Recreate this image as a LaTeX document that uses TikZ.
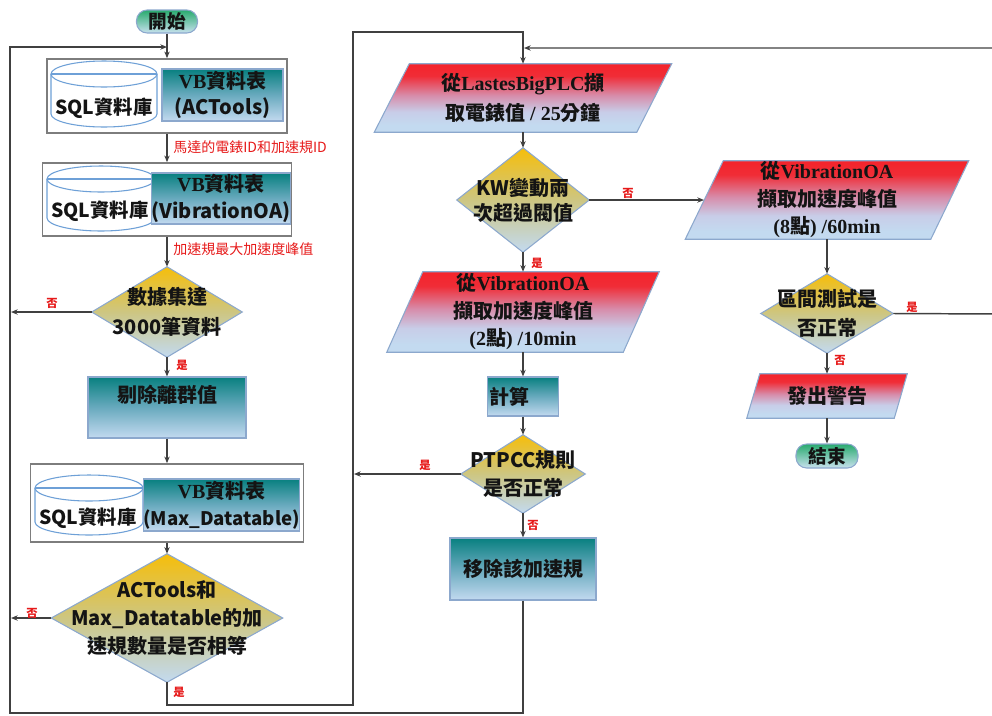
\documentclass[tikz,border=0pt]{standalone}
\usepackage{fontspec}
\setmainfont{Noto Sans CJK TC}
\newfontfamily\tms{Liberation Serif}
\usetikzlibrary{arrows.meta,backgrounds,calc}
\definecolor{teal1}{RGB}{8,128,128}
\definecolor{teal2}{RGB}{105,170,190}
\definecolor{lblue}{RGB}{195,218,240}
\definecolor{gold1}{RGB}{246,190,10}
\definecolor{khaki1}{RGB}{205,198,130}
\definecolor{pred}{RGB}{255,8,8}
\definecolor{pred2}{RGB}{240,45,55}
\definecolor{pmid}{RGB}{215,140,170}
\definecolor{pblue}{RGB}{200,205,232}
\definecolor{tgreen}{RGB}{40,170,110}
\definecolor{tbot}{RGB}{200,225,238}
\definecolor{edgecol}{RGB}{140,168,205}
\definecolor{conncol}{RGB}{64,64,64}
\definecolor{labred}{RGB}{230,25,25}
\definecolor{boxgray}{RGB}{125,125,125}
\definecolor{cylcol}{RGB}{110,160,215}
\definecolor{txtcol}{RGB}{20,20,20}
\pgfdeclareverticalshading{parashade}{100bp}{color(0bp)=(lblue); color(30bp)=(lblue); color(40bp)=(pblue); color(52bp)=(pmid); color(66bp)=(pred2); color(100bp)=(pred)}
\tikzset{
  conn/.style={draw=conncol, line width=1.1pt, -{Stealth[length=5pt,width=4pt]}},
  lab/.style={text=labred, font=\bfseries\fontsize{8.5}{10}\selectfont, inner sep=0pt},
  redlab/.style={text=labred, font=\fontsize{10.5}{12}\selectfont, anchor=west, inner sep=0pt},
  maintext/.style={text=txtcol, font=\bfseries\fontsize{15}{21}\selectfont, align=center, inner sep=0pt},
  term/.style={maintext, rounded corners=8pt, draw=edgecol, line width=0.8pt, top color=tgreen, bottom color=tbot,
    font=\bfseries\fontsize{14}{16}\selectfont},
  obox/.style={draw=boxgray, line width=1.2pt, fill=white, inner sep=0pt},
  tbox/.style={maintext, draw=edgecol, line width=0.8pt, top color=teal1, bottom color=lblue, middle color=teal2,
    font=\bfseries\fontsize{15}{20}\selectfont},
  shapetext/.style={maintext},
  diafill/.style={draw=edgecol, line width=0.8pt, top color=gold1, bottom color=lblue, middle color=khaki1},
  parafill/.style={draw=edgecol, line width=0.8pt, shading=parashade},
  cylst/.style={draw=cylcol, line width=0.8pt, fill=white},
  sqlt/.style={text=txtcol, font=\bfseries\fontsize{14.5}{18}\selectfont, inner sep=0pt},
}
\begin{document}
\begin{tikzpicture}[x=0.75pt,y=-0.75pt]
\useasboundingbox (0,0) rectangle (992,715);

% ---------- left column ----------
\node[term, minimum width=45.75pt, minimum height=17.25pt] (start) at (167,21.5) {開始};

\node[obox, minimum width=180pt, minimum height=55.5pt] (ob1) at (167,96) {};
\path[cylst] (51,74) -- (51,114) arc[start angle=180,end angle=360,x radius=39.75pt,y radius=9.75pt] -- (157,74);
\draw[cylst] (104,74) ellipse [x radius=39.75pt, y radius=9.75pt];
\draw[draw=cylcol, line width=0.8pt] (51,74) -- (157,74);
\node[sqlt] (sql1) at (104,108) {SQL資料庫};
\node[tbox, minimum width=90.75pt, minimum height=39pt] (vb1) at (222.5,95) {{\tms VB}資料表\\(ACTools)};

\node[obox, minimum width=186.75pt, minimum height=54.75pt] (ob2) at (167,199.5) {};
\path[cylst] (47,179) -- (47,218) arc[start angle=180,end angle=360,x radius=40.5pt,y radius=9.75pt] -- (155,179);
\draw[cylst] (101,179) ellipse [x radius=40.5pt, y radius=9.75pt];
\draw[draw=cylcol, line width=0.8pt] (47,179) -- (155,179);
\node[sqlt] (sql2) at (100,211) {SQL資料庫};
\node[tbox, minimum width=94.5pt, minimum height=38.25pt] (vb2) at (221,198.5) {{\tms VB}資料表\\(VibrationOA)};

\node[shapetext, minimum width=112.5pt, minimum height=67.5pt, font=\bfseries\fontsize{15}{22.5}\selectfont] (d1) at (167,312) {數據集達\\3000筆資料};

\node[tbox, minimum width=118.5pt, minimum height=45.75pt] (r1) at (167,407.5) {};
\node[maintext] (r1t) at (167,395) {剔除離群值};

\node[obox, minimum width=204.75pt, minimum height=58.5pt] (ob3) at (167,503) {};
\path[cylst] (35,488) -- (35,522) arc[start angle=180,end angle=360,x radius=40.5pt,y radius=9.75pt] -- (143,488);
\draw[cylst] (89,488) ellipse [x radius=40.5pt, y radius=9.75pt];
\draw[draw=cylcol, line width=0.8pt] (35,488) -- (143,488);
\node[sqlt] (sql3) at (88,518) {SQL資料庫};
\node[tbox, minimum width=113.25pt, minimum height=39pt] (vb3) at (221.5,505) {{\tms VB}資料表\\{\fontsize{14}{20}\selectfont(Max\_Datatable)}};

\node[shapetext, minimum width=173.25pt, minimum height=96pt] (d2) at (167,618) {ACTools和\\Max\_Datatable的加\\速規數量是否相等};

% ---------- middle column ----------
\node[shapetext, minimum width=222.75pt, minimum height=51pt, font=\bfseries\fontsize{15}{22.5}\selectfont] (p1) at (523,98) {從{\tms LastesBigPLC}擷\\取電錶值{\tms\ / 25}分鐘};
\node[shapetext, minimum width=99pt, minimum height=78pt, font=\bfseries\fontsize{15}{19}\selectfont] (dKW) at (523,200) {KW變動兩\\次超過閥值};
\node[shapetext, minimum width=204pt, minimum height=60pt, font=\bfseries\fontsize{15}{20.6}\selectfont] (p3) at (523,312) {從{\tms VibrationOA}\\擷取加速度峰值\\{\tms (2}點{\tms ) /10min}};
\node[tbox, minimum width=53.25pt, minimum height=29.25pt] (calc) at (523,396.5) {};
\node[maintext] (calct) at (509,397) {計算};
\node[shapetext, minimum width=93pt, minimum height=58.5pt] (dPT) at (523,474) {PTPCC規則\\是否正常};
\node[tbox, minimum width=109.5pt, minimum height=46.5pt] (rm) at (523,569) {移除該加速規};

% ---------- right column ----------
\node[shapetext, minimum width=212.25pt, minimum height=58.5pt, font=\bfseries\fontsize{15}{20.6}\selectfont] (p2) at (827,200) {從{\tms VibrationOA}\\擷取加速度峰值\\{\tms (8}點{\tms ) /60min}};
\node[shapetext, minimum width=99pt, minimum height=59.25pt, font=\bfseries\fontsize{15}{21.75}\selectfont] (dInt) at (827,313.5) {區間測試是\\否正常};
\node[shapetext, minimum width=120pt, minimum height=33pt] (p4) at (827,396) {發出警告};
\node[term, minimum width=46.5pt, minimum height=18pt] (end) at (827,456) {結束};

% ---------- shapes behind text ----------
\begin{scope}[on background layer]
  \foreach \d in {d1,d2,dKW,dPT,dInt}{
    \path[diafill] (\d.north) -- (\d.east) -- (\d.south) -- (\d.west) -- cycle;
  }
  \path[parafill] ($(p1.north west)+(35,0)$) -- (p1.north east) -- ($(p1.south east)+(-35,0)$) -- (p1.south west) -- cycle;
  \path[parafill] ($(p2.north west)+(38,0)$) -- (p2.north east) -- ($(p2.south east)+(-38,0)$) -- (p2.south west) -- cycle;
  \path[parafill] ($(p3.north west)+(36,0)$) -- (p3.north east) -- ($(p3.south east)+(-36,0)$) -- (p3.south west) -- cycle;
  \path[parafill] ($(p4.north west)+(13,0)$) -- (p4.north east) -- ($(p4.south east)+(-13,0)$) -- (p4.south west) -- cycle;
\end{scope}

% ---------- coordinates ----------
\coordinate (a1) at (523,713);
\coordinate (a2) at (10,713);
\coordinate (a3) at (10,47);
\coordinate (a4) at (167,47);
\coordinate (b1) at (11,312);
\coordinate (b2) at (11,618);
\coordinate (c1) at (167,705);
\coordinate (c2) at (353,705);
\coordinate (c3) at (353,32);
\coordinate (c4) at (523,32);
\coordinate (e1) at (354,474);
\coordinate (f1) at (1000,314);
\coordinate (f2) at (1000,48);
\coordinate (f3) at (524,48);
\coordinate (p2in) at (704,200);

% ---------- connectors ----------
\draw[conn] (start.south) -- (ob1.north);
\draw[conn] (ob1.south) -- (ob2.north);
\node[redlab] (l1) at (173,147) {馬達的電錶ID和加速規ID};
\draw[conn] (ob2.south) -- (d1.north);
\node[redlab] (l2) at (173,249) {加速規最大加速度峰值};
\draw[conn] (d1.west) -- (b1);
\node[lab] (n1) at (52,303) {否};
\draw[conn] (d1.south) -- (r1.north);
\node[lab] (y1) at (182,365) {是};
\draw[conn] (r1.south) -- (ob3.north);
\draw[conn] (ob3.south) -- (d2.north);
\draw[conn] (d2.west) -- (b2);
\node[lab] (n2) at (32,613) {否};
\draw[conn] (d2.south) -- (c1) -- (c2) -- (c3) -- (c4) -- (p1.north);
\node[lab] (y2) at (179,692) {是};
\draw[conn] (rm.south) -- (a1) -- (a2) -- (a3) -- (a4);

\draw[conn] (p1.south) -- (dKW.north);
\draw[conn] (dKW.east) -- (p2in);
\node[lab] (n3) at (628,193) {否};
\draw[conn] (dKW.south) -- (p3.north);
\node[lab] (y3) at (537,263) {是};
\draw[conn] (p3.south) -- (calc.north);
\draw[conn] (calc.south) -- (dPT.north);
\draw[conn] (dPT.west) -- (e1);
\node[lab] (y4) at (425,465) {是};
\draw[conn] (dPT.south) -- (rm.north);
\node[lab] (n4) at (533,525) {否};

\draw[conn] (p2.south) -- (dInt.north);
\draw[conn] (dInt.east) -- (f1) -- (f2) -- (f3);
\node[lab] (y5) at (912,307) {是};
\draw[conn] (dInt.south) -- (p4.north);
\node[lab] (n5) at (840,360) {否};
\draw[conn] (p4.south) -- (end.north);
\end{tikzpicture}
\end{document}
